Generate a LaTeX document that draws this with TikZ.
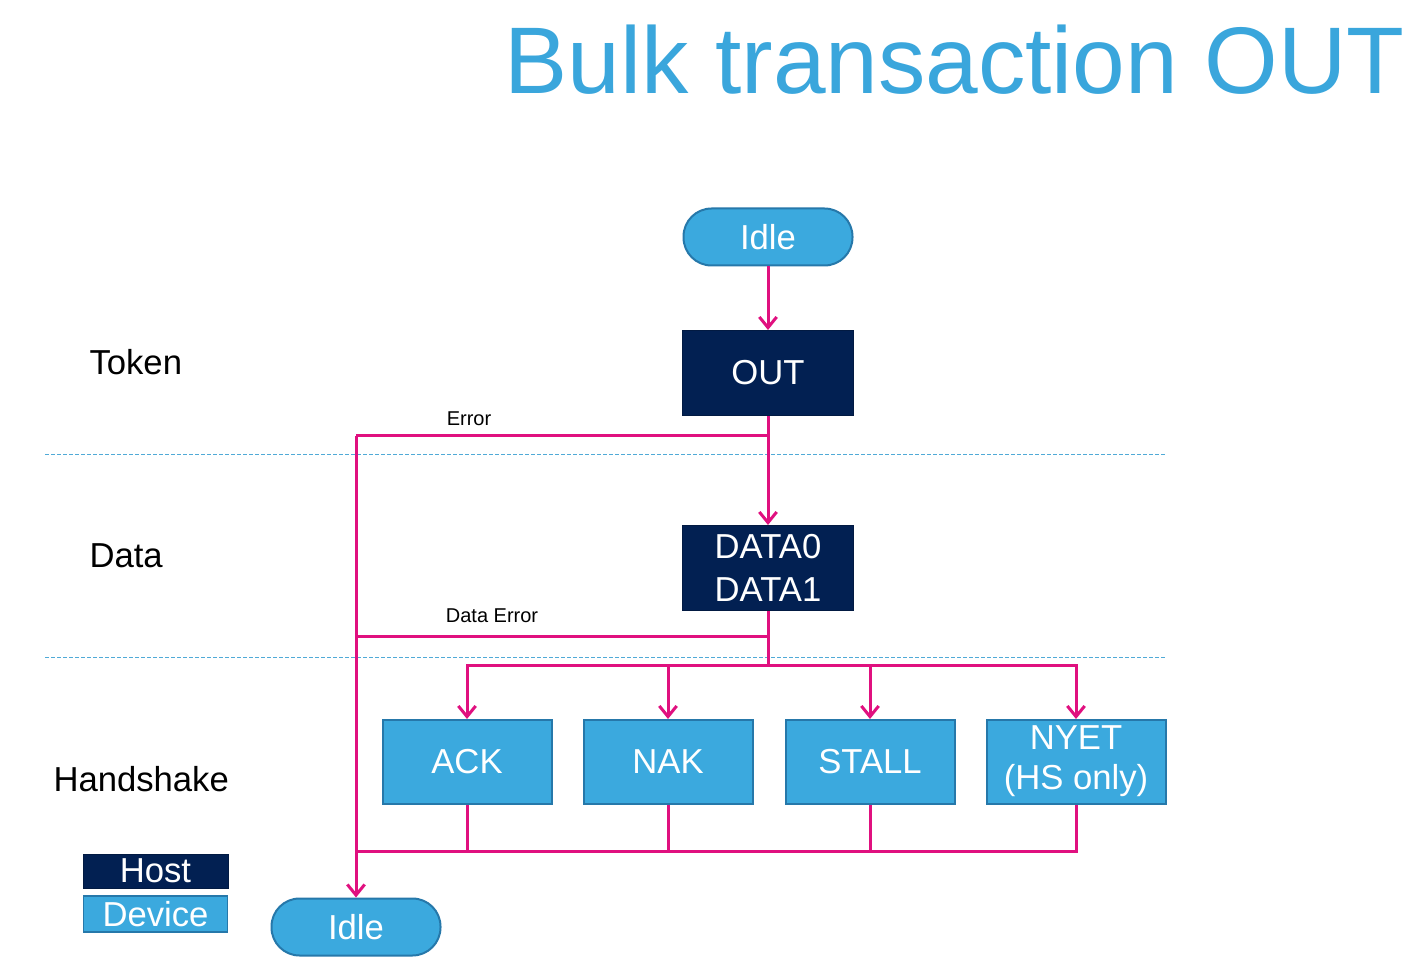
\documentclass[tikz,border=0pt]{standalone}
\usepackage{fontspec}
\setmainfont{Liberation Sans}
\usetikzlibrary{arrows.meta}

\definecolor{hostblue}{RGB}{2,32,82}
\definecolor{devblue}{RGB}{59,169,222}
\definecolor{devedge}{RGB}{38,120,170}
\definecolor{flowpink}{RGB}{224,16,127}
\definecolor{titleblue}{RGB}{58,166,220}
\definecolor{sepblue}{RGB}{80,170,215}

\tikzset{every picture/.style={line width=0.75pt}}
\tikzset{
  hostbox/.style={draw=hostblue!80!black, fill=hostblue, text=white, minimum width=128.25pt, minimum height=63.75pt, inner sep=0.75pt, align=center, font=\fontsize{26}{32}\selectfont},
  devbox/.style={draw=devedge, line width=1.5pt, fill=devblue, text=white, minimum width=126.75pt, minimum height=63pt, inner sep=0.75pt, align=center, font=\fontsize{26}{30}\selectfont},
  idlestate/.style={draw=devedge, line width=1.5pt, fill=devblue, text=white, minimum width=126.75pt, minimum height=42.75pt, rounded corners=21pt, inner sep=0.75pt, font=\fontsize{26}{30}\selectfont},
  flow/.style={draw=flowpink, line width=2.25pt},
  flowarrow/.style={flow, -{Straight Barb[length=8pt,width=13pt,line width=2.25pt]}},
  phase/.style={anchor=west, inner sep=0.75pt, font=\fontsize{26}{30}\selectfont},
  errlabel/.style={inner sep=0.75pt, font=\fontsize{15}{18}\selectfont},
  sepline/.style={draw=sepblue, line width=0.75pt, dash pattern=on 3pt off 1.5pt}
}

\begin{document}
\begin{tikzpicture}[x=0.75pt,y=0.75pt,yscale=-1,xscale=1]
\useasboundingbox (0,0) rectangle (1410,962);

% title
\node (title) [anchor=east, inner sep=0pt, text=titleblue, font=\fontsize{71}{80}\selectfont] at (1405,60) {Bulk transaction OUT};

% phase separators
\draw [sepline] (45,454) -- (1166,454);
\draw [sepline] (45,657) -- (1166,657);

% phase names
\node (token) [phase] at (88,362) {Token};
\node (datap) [phase] at (88,556) {Data};
\node (hands) [phase] at (52,779) {Handshake};

% states and packets
\node (idletop) [idlestate] at (768,237) {Idle};
\node (out) [hostbox] at (768,373) {OUT};
\node (data) [hostbox] at (768,568) {DATA0\\DATA1};
\node (ack) [devbox] at (467,762) {ACK};
\node (nak) [devbox] at (668,762) {NAK};
\node (stall) [devbox] at (870,762) {STALL};
\node (nyet) [devbox, minimum width=134.25pt, text depth=6pt] at (1076,762) {NYET\\(HS only)};
\node (idlebot) [idlestate] at (356,927) {Idle};

% legend
\node (host) [hostbox, minimum width=108.75pt, minimum height=25.5pt, inner sep=0pt] at (155.5,871) {Host};
\node (device) [devbox, line width=1pt, minimum width=108pt, minimum height=27pt, inner sep=0pt] at (155.5,914) {Device};

% junctions
\coordinate (errA) at (768,436);
\coordinate (errB) at (356,436);
\coordinate (derrA) at (768,636);
\coordinate (derrB) at (356,636);
\coordinate (split) at (768,665);
\coordinate (join) at (356,851);

% connectors
\draw [flowarrow] (idletop) -- (out);
\draw [flowarrow] (out) -- (data);
\draw [flow] (errA) -- (errB);
\draw [flowarrow] (errB) -- (idlebot);
\draw [flow] (data.south) -- (split);
\draw [flow] (derrA) -- (derrB);
\foreach \hs in {ack,nak,stall,nyet}{
  \draw [flowarrow] (split) -| (\hs.north);
  \draw [flow] (\hs.south) |- (join);
}

\node (errtxt) [errlabel] at (469,419) {Error};
\node (derrtxt) [errlabel] at (492,616) {Data Error};

\end{tikzpicture}
\end{document}
